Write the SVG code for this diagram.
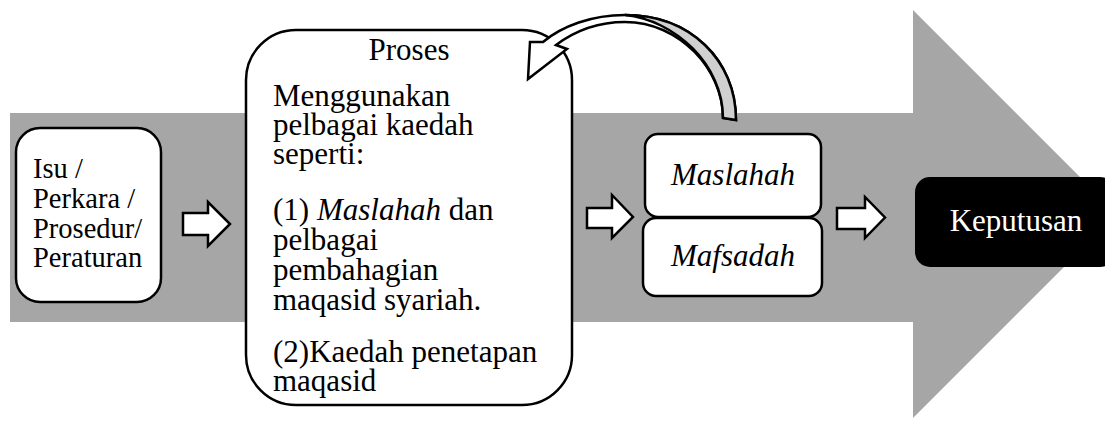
<svg xmlns="http://www.w3.org/2000/svg" width="1105" height="422" viewBox="0 0 1105 422">
<style>
.box{fill:#fff;stroke:#000;stroke-width:2.5}
.blk{fill:#fff;stroke:#000;stroke-width:2.5;stroke-linejoin:miter}
</style>
<rect width="1105" height="422" fill="#fff"/>
<g id="big-arrow">
<polygon points="10,113 913,113 913,10 1117,214 913,418 913,322 10,322" fill="#a6a6a6"/>
</g>
<g id="isu">
<rect class="box" x="16" y="128" width="145" height="174" rx="24"/>
<text font-family="'Liberation Serif', 'Times New Roman', serif" font-size="28.5" fill="#000" x="33" y="178">Isu /</text>
<text font-family="'Liberation Serif', 'Times New Roman', serif" font-size="28.5" fill="#000" x="33" y="208">Perkara /</text>
<text font-family="'Liberation Serif', 'Times New Roman', serif" font-size="28.5" fill="#000" x="33" y="238">Prosedur/</text>
<text font-family="'Liberation Serif', 'Times New Roman', serif" font-size="28.5" fill="#000" x="33" y="267">Peraturan</text>
</g>
<g id="proses">
<rect class="box" x="246" y="30" width="326" height="375" rx="50"/>
<text font-family="'Liberation Serif', 'Times New Roman', serif" font-size="31" fill="#000" x="409" y="60" text-anchor="middle">Proses</text>
<text font-family="'Liberation Serif', 'Times New Roman', serif" font-size="31" fill="#000" x="273" y="106">Menggunakan</text>
<text font-family="'Liberation Serif', 'Times New Roman', serif" font-size="31" fill="#000" x="273" y="135">pelbagai kaedah</text>
<text font-family="'Liberation Serif', 'Times New Roman', serif" font-size="31" fill="#000" x="273" y="164">seperti:</text>
<text font-family="'Liberation Serif', 'Times New Roman', serif" font-size="31" fill="#000" x="273" y="220">(1) <tspan font-family="'Liberation Serif', 'Times New Roman', serif" font-style="italic">Maslahah</tspan> dan</text>
<text font-family="'Liberation Serif', 'Times New Roman', serif" font-size="31" fill="#000" x="273" y="250">pelbagai</text>
<text font-family="'Liberation Serif', 'Times New Roman', serif" font-size="31" fill="#000" x="273" y="280">pembahagian</text>
<text font-family="'Liberation Serif', 'Times New Roman', serif" font-size="31" fill="#000" x="273" y="310">maqasid syariah.</text>
<text font-family="'Liberation Serif', 'Times New Roman', serif" font-size="31" fill="#000" x="273" y="362">(2)Kaedah penetapan</text>
<text font-family="'Liberation Serif', 'Times New Roman', serif" font-size="31" fill="#000" x="273" y="391">maqasid</text>
</g>
<g id="maslahah">
<rect class="box" x="645" y="134" width="176" height="83" rx="13"/>
<text font-family="'Liberation Serif', 'Times New Roman', serif" font-size="31" font-style="italic" fill="#000" x="733" y="185" text-anchor="middle">Maslahah</text>
</g>
<g id="mafsadah">
<rect class="box" x="643" y="218" width="179" height="78" rx="13"/>
<text font-family="'Liberation Serif', 'Times New Roman', serif" font-size="31" font-style="italic" fill="#000" x="733" y="266" text-anchor="middle">Mafsadah</text>
</g>
<g id="keputusan">
<rect x="915" y="177" width="200" height="90" rx="15" fill="#000"/>
<text font-family="'Liberation Serif', 'Times New Roman', serif" font-size="31" fill="#fff" x="1016" y="231" text-anchor="middle">Keputusan</text>
</g>
<g id="connectors">
<polygon class="blk" points="183,213 208,213 208,202 230,224 208,246 208,235 183,235"/>
<polygon class="blk" points="587,208 612,208 612,195 633,217 612,238 612,228 587,228"/>
<polygon class="blk" points="837,208 865,208 865,197 885,217.5 865,238 865,229 837,229"/>
<path d="M736 120 C736 60 690 15 625 15 C592 15 562 26 543 42 L530 42 L528 79 L567 49 L556 45 C576 30 600 22 625 22 C680 22 723 70 723 118 Z" fill="#fff" stroke="#000" stroke-width="2.5" stroke-linejoin="miter"/>
<path d="M736 120 C736 60 690 15 625 15 C675 20 723 65 723 118 Z" fill="#d0d0d0" stroke="#000" stroke-width="2.5"/>
</g>
</svg>
